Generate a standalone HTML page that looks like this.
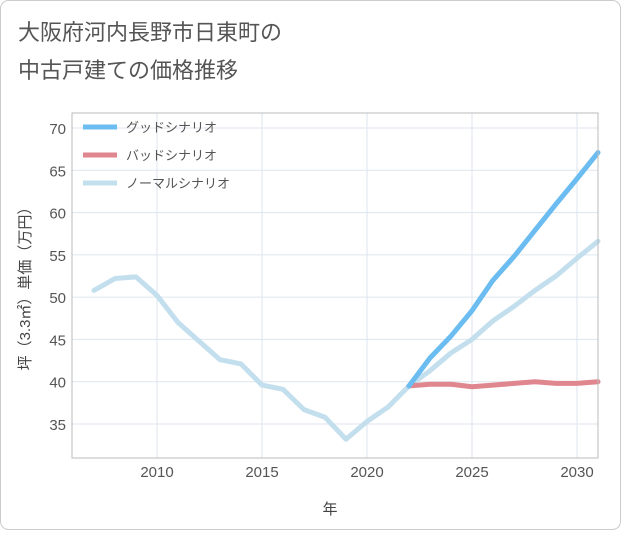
<!DOCTYPE html>
<html><head><meta charset="utf-8"><style>
body{margin:0;background:#fff;}
svg text{font-family:"Liberation Sans","Noto Sans CJK JP",sans-serif;}
</style></head><body>
<svg width="621" height="530">
<rect x="0.5" y="0.5" width="620" height="529" rx="8" fill="#fff" stroke="#ccc"/>
<text x="18" y="40" font-size="22" fill="#555">大阪府河内長野市日東町の</text>
<text x="18" y="78" font-size="22" fill="#555">中古戸建ての価格推移</text>
<g id="grid"></g>
<g id="series"></g>
<rect x="72" y="113" width="526" height="345" fill="none" stroke="#bbb"/>
<text x="330" y="514" font-size="15" fill="#444" text-anchor="middle">年</text>
<text transform="translate(30,285) rotate(-90)" font-size="15" fill="#444" text-anchor="middle">坪（3.3㎡）単価（万円）</text>
<g id="legend"></g>
</svg>
<script>
const years=[2007,2008,2009,2010,2011,2012,2013,2014,2015,2016,2017,2018,2019,2020,2021,2022,2023,2024,2025,2026,2027,2028,2029,2030,2031];
const normal=[50.8,52.2,52.4,50.2,47,44.8,42.6,42.1,39.6,39.1,36.7,35.8,33.2,35.3,37.0,39.5,41.3,43.4,45.0,47.2,48.9,50.8,52.5,54.6,56.6];
const fYears=[2022,2023,2024,2025,2026,2027,2028,2029,2030,2031];
const good=[39.5,42.8,45.4,48.4,52.0,54.8,57.9,61.0,64.0,67.1];
const bad=[39.5,39.7,39.7,39.4,39.6,39.8,40.0,39.8,39.8,40.0];
const xTicks=[2010,2015,2020,2025,2030];
const yTicks=[35,40,45,50,55,60,65,70];
const NS="http://www.w3.org/2000/svg";
const X=y=>157+(y-2010)*21;
const Y=v=>128+(70-v)*296/35;
function mk(t,a,p){const e=document.createElementNS(NS,t);for(const k in a)e.setAttribute(k,a[k]);p.appendChild(e);return e;}
const g=document.getElementById('grid');
xTicks.forEach(t=>{
 const l=mk('line',{x1:X(t),x2:X(t),y1:113,y2:458,stroke:'#dde6ee'},g);
 
 
 const tx=mk('text',{x:X(t),y:477,'font-size':15,fill:'#555','text-anchor':'middle'},g);tx.textContent=t;
 
 
});
yTicks.forEach(t=>{
 const l=mk('line',{x1:72,x2:598,y1:Y(t),y2:Y(t),stroke:'#dde6ee'},g);
 
 
 const tx=mk('text',{x:66,y:Y(t)+6,'font-size':15,fill:'#555','text-anchor':'end'},g);tx.textContent=t;
 
 
});
const s=document.getElementById('series');
function line(xs,vs,c,name){
 const p=mk('polyline',{points:xs.map((y,i)=>X(y)+','+Y(vs[i])).join(' '),fill:'none',stroke:c,'stroke-width':5,'stroke-linejoin':'round','stroke-linecap':'round'},s);
 
 
}
line(years,normal,'#c3dfee','normal-scenario-line');
line(fYears,bad,'#e0868f','bad-scenario-line');
line(fYears,good,'#6bbcf0','good-scenario-line');
const lg=document.getElementById('legend');
[['グッドシナリオ','#6bbcf0','legend-good'],['バッドシナリオ','#e0868f','legend-bad'],['ノーマルシナリオ','#c3dfee','legend-normal']].forEach((d,i)=>{
 const y=127+i*28;
 const l=mk('line',{x1:83,x2:117,y1:y,y2:y,stroke:d[1],'stroke-width':5},lg);
 
 
 const t=mk('text',{x:126,y:y+5,'font-size':13,fill:'#555'},lg);t.textContent=d[0];
 
 
});
</script>
</body></html>
